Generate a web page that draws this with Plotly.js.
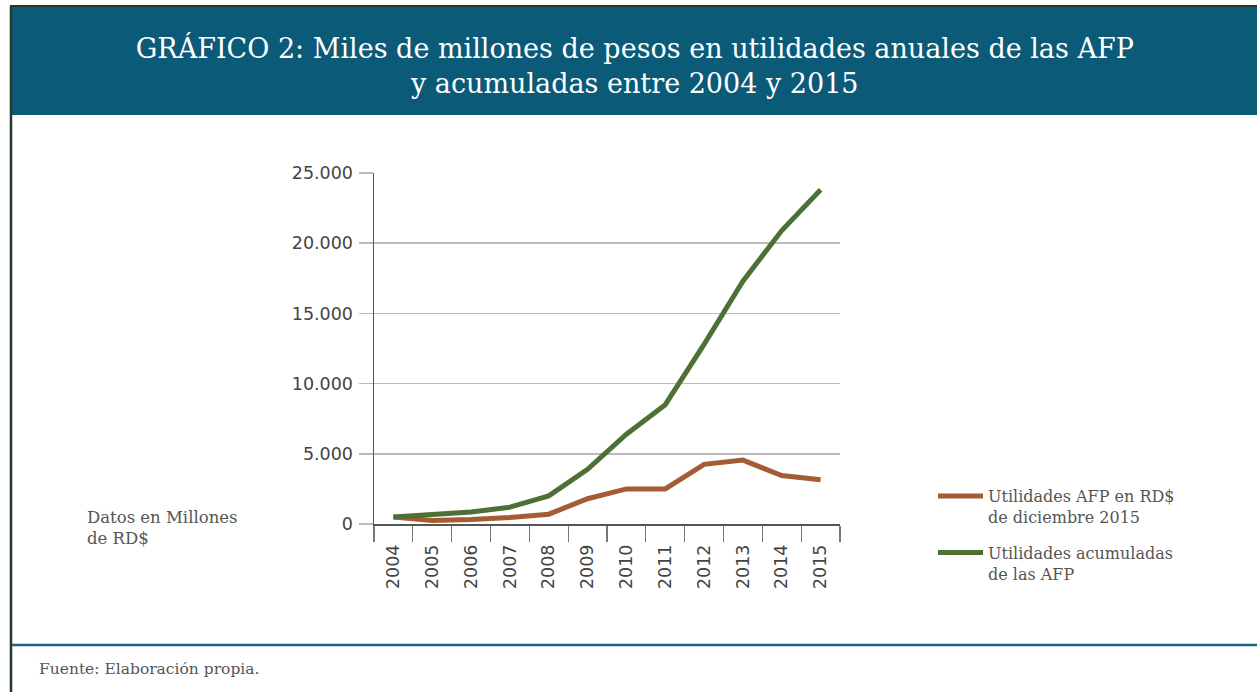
<!DOCTYPE html>
<html>
<head>
<meta charset="utf-8">
<script src="https://cdn.plot.ly/plotly-3.0.1.min.js"></script>
<style>html,body{margin:0;padding:0;background:#fff;}#chart{width:1257px;height:692px;}</style>
</head>
<body>
<div id="chart"></div>
<script>
// ---- data ----
var years = ['2004','2005','2006','2007','2008','2009','2010','2011','2012','2013','2014','2015'];
var utilidadesAnuales = [500, 250, 320, 460, 700, 1800, 2500, 2500, 4250, 4550, 3450, 3150];
var utilidadesAcumuladas = [500, 650, 850, 1200, 2000, 3900, 6400, 8500, 12800, 17300, 20900, 23800];
var seriesNames = ['Utilidades AFP en RD$<br>de diciembre 2015', 'Utilidades acumuladas<br>de las AFP'];
var yTicks = [0, 5000, 10000, 15000, 20000, 25000];

// ---- layout helpers (pixel -> paper) ----
var W = 1257, H = 692;
var L = 374, R = 840, T = 173, B = 524;
function px(x){ return (x - L) / (R - L); }
function py(y){ return (B - y) / (B - T); }

var serif = 'DejaVu Serif, serif';
var sans = 'DejaVu Sans, sans-serif';

var traces = [
  {x: years, y: utilidadesAnuales, name: seriesNames[0], legendgroup: 'a', type: 'scatter', mode: 'lines',
   line: {color: '#a35c33', width: 5}},
  {x: years, y: utilidadesAcumuladas, name: seriesNames[1], legendgroup: 'b', type: 'scatter', mode: 'lines',
   line: {color: '#4e7034', width: 5}}
];

var layout = {
  width: W, height: H,
  margin: {l: L, r: W - R, t: T, b: H - B, pad: 0},
  paper_bgcolor: '#ffffff', plot_bgcolor: '#ffffff',
  separators: ',.',
  showlegend: true,
  title: {
    text: 'GRÁFICO 2: Miles de millones de pesos en utilidades anuales de las AFP<br>y acumuladas entre 2004 y 2015',
    font: {family: serif, size: 27, color: '#ffffff'},
    x: 0.505, xref: 'container', xanchor: 'center',
    y: 1 - 58 / H, yref: 'container', yanchor: 'middle'
  },
  xaxis: {
    type: 'category', range: [-0.5, 11.5],
    tickson: 'boundaries', ticks: 'outside', ticklen: 16, tickcolor: '#777', tickwidth: 1.2,
    tickangle: -90, tickfont: {family: sans, size: 17.5, color: '#444'},
    ticklabelstandoff: 12,
    showline: true, linecolor: '#555', linewidth: 1.5,
    showgrid: false, zeroline: false, fixedrange: true
  },
  yaxis: {
    range: [0, 25000], tickvals: yTicks, tickformat: ',d',
    ticks: 'outside', ticklen: 14, tickcolor: '#bbb', tickwidth: 1.5,
    tickfont: {family: sans, size: 17.5, color: '#444'},
    ticklabelstandoff: 2,
    showgrid: true, gridcolor: '#bbb', gridwidth: 1.5,
    showline: true, linecolor: '#555', linewidth: 1.5,
    zeroline: false, fixedrange: true
  },
  legend: {
    x: px(933), xanchor: 'left', y: py(479), yanchor: 'top',
    font: {family: serif, size: 16, color: '#555'},
    valign: 'top', tracegroupgap: 12, itemwidth: 45,
    bgcolor: 'rgba(0,0,0,0)'
  },
  shapes: [
    {type: 'rect', xref: 'paper', yref: 'paper', x0: px(10), x1: px(1257), y0: py(115), y1: py(6),
     fillcolor: '#0a5a78', line: {width: 0}, layer: 'below'},
    {type: 'line', xref: 'paper', yref: 'paper', x0: px(10), x1: px(1257), y0: py(6), y1: py(6),
     line: {color: '#243828', width: 2}},
    {type: 'line', xref: 'paper', yref: 'paper', x0: px(11), x1: px(11), y0: py(6), y1: py(692),
     line: {color: '#243828', width: 2.5}},
    {type: 'line', xref: 'paper', yref: 'paper', x0: px(12), x1: px(1257), y0: py(645), y1: py(645),
     line: {color: '#1d6583', width: 2.5}}
  ],
  annotations: [
    {xref: 'paper', yref: 'paper', x: px(85), y: py(506), xanchor: 'left', yanchor: 'top', align: 'left',
     showarrow: false, text: 'Datos en Millones<br>de RD$', font: {family: serif, size: 16.5, color: '#555'}},
    {xref: 'paper', yref: 'paper', x: px(37), y: py(669), xanchor: 'left', yanchor: 'middle', align: 'left',
     showarrow: false, text: 'Fuente: Elaboración propia.', font: {family: serif, size: 15.5, color: '#555'}}
  ]
};

Plotly.newPlot('chart', traces, layout, {displayModeBar: false, staticPlot: true});
</script>
</body>
</html>
